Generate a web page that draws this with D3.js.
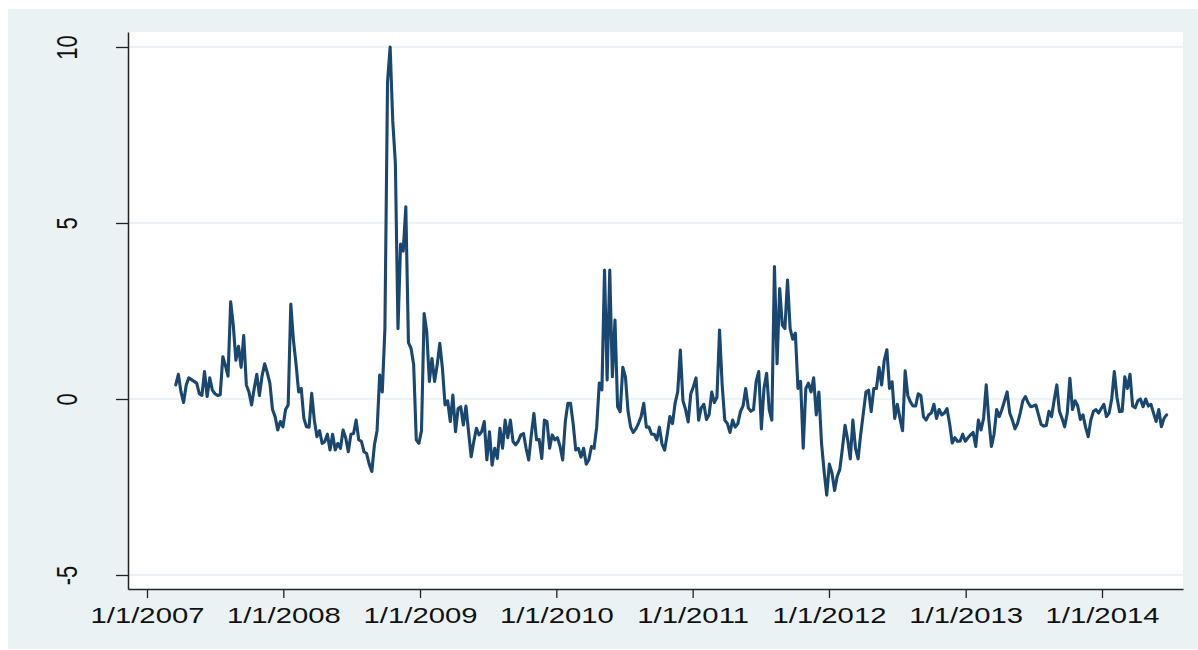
<!DOCTYPE html>
<html><head><meta charset="utf-8">
<script src="https://cdn.jsdelivr.net/npm/d3@7"></script>
<style>html,body{margin:0;padding:0;background:#fff;} svg{display:block;}</style>
</head><body>
<svg id="chart" width="1198" height="650"></svg>
<script>
// ---- data (weekly readings) ----
const startDate = "2007-03-19";
const stepDays = 7;
const values2007 = [0.4, 0.7, 0.2, -0.1, 0.4, 0.6, 0.55, 0.5, 0.45, 0.15,
  0.1, 0.78, 0.07, 0.6, 0.25, 0.15, 0.1, 0.12, 1.2, 0.95,
  0.65, 2.76, 2.1, 1.1, 1.5, 0.9, 1.8, 0.4, 0.2, -0.17,
  0.3, 0.7, 0.1, 0.65, 1.0, 0.75, 0.45, -0.3, -0.5, -0.88,
  -0.64, -0.79, -0.3, -0.17, 2.7, 1.68, 1.0, 0.2, 0.3, -0.55,
  -0.79, -0.8, 0.16, -0.6, -1.07, -0.9, -1.26, -1.21, -1.0, -1.45,
  -1.0, -1.45, -1.26, -1.4, -0.88, -1.1, -1.5, -1.0, -0.98, -0.6,
  -1.16, -1.2, -1.5, -1.55, -1.85];
const values2008 = [-2.06, -1.3, -0.9, 0.68, 0.2, 2.0, 9.0, 10.0, 7.9, 6.7,
  2.0, 4.4, 4.2, 5.46, 1.6, 1.44, 0.97, -1.16, -1.26, -0.9,
  2.43, 1.91, 0.5, 1.15, 0.5, 0.97, 1.58, 0.87, -0.17, -0.05,
  -0.64, 0.11, -0.93, -0.27, -0.22, -0.74, -0.2, -0.93, -1.64, -1.21,
  -0.83, -1.02, -0.93, -0.64, -1.73, -0.93, -1.88, -1.4, -1.69, -0.83,
  -1.4, -0.6, -1.1, -0.6, -1.21, -1.3, -1.2, -1.02, -0.98, -1.4,
  -1.73, -1.02, -0.41, -1.16, -1.15, -1.69, -0.6, -0.64, -1.4, -1.02,
  -1.16, -1.1, -1.35, -1.73, -0.64, -0.12];
const values2010 = [-0.12, -0.7, -1.45, -1.4, -1.65, -1.4, -1.85, -1.73, -1.35, -1.4,
  -0.8, 0.45, 0.26, 3.66, 0.54, 3.66, 0.63, 2.24, -0.22, -0.36,
  0.9, 0.63, -0.35, -0.8, -0.95, -0.85, -0.69, -0.5, -0.12, -0.8,
  -0.8, -1.0, -1.0, -1.16, -0.8, -1.28, -1.45, -1.0, -0.5, -0.7,
  -0.12, 0.2, 1.39, -0.05, -0.3, -0.65, 0.15, 0.35, 0.6, -0.6,
  -0.25, -0.15, -0.58, -0.45, 0.2, -0.1, 0.05, 1.96, 0.4, -0.6,
  -0.7, -0.95, -0.6, -0.8, -0.7, -0.35, -0.2, 0.3, -0.25, -0.35,
  -0.3, 0.5, 0.78, -0.85, 0.3, 0.73, -0.3];
const values2011 = [-0.6, 3.76, 1.0, 3.14, 2.1, 2.0, 3.38, 2.0, 1.7, 1.87,
  0.3, 0.5, -1.4, 0.3, 0.45, 0.2, 0.6, -0.45, 0.2, -1.25,
  -2.06, -2.73, -1.85, -2.1, -2.6, -2.2, -2.0, -1.4, -0.75, -1.15,
  -1.7, -0.6, -1.4, -1.7, -1.0, -0.4, 0.2, 0.25, -0.36, 0.3,
  0.3, 0.9, 0.4, 1.1, 1.4, 0.3, 0.49, -0.55, -0.15, -0.55,
  -0.9, 0.8, 0.1, -0.08, -0.2, -0.2, 0.15, 0.1, -0.5, -0.6,
  -0.45, -0.4, -0.15, -0.55, -0.3, -0.45, -0.4, -0.27, -0.7, -1.25,
  -1.1, -1.2, -1.2, -1.0, -1.2, -1.1, -1.02];
const values2013 = [-0.95, -1.35, -0.6, -0.88, -0.55, 0.4, -0.6, -1.35, -1.0, -0.3,
  -0.5, -0.3, -0.05, 0.2, -0.4, -0.6, -0.85, -0.69, -0.4, -0.05,
  0.07, -0.1, -0.22, -0.2, -0.17, -0.45, -0.72, -0.77, -0.75, -0.35,
  -0.5, -0.03, 0.4, -0.35, -0.55, -0.79, -0.4, 0.59, -0.3, -0.05,
  -0.2, -0.58, -0.45, -0.8, -1.07, -0.6, -0.35, -0.3, -0.4, -0.27,
  -0.15, -0.5, -0.4, 0.0, 0.78, 0.05, -0.36, -0.35, 0.63, 0.3,
  0.7, -0.2, -0.25, -0.05, 0.0, -0.22, 0.0, -0.2, -0.15, -0.4,
  -0.64, -0.3, -0.79, -0.55, -0.45];
const xTickDates = ["2007-01-01","2008-01-01","2009-01-01","2010-01-01","2011-01-01","2012-01-01","2013-01-01","2014-01-01"];
const xTickLabels = ["1/1/2007","1/1/2008","1/1/2009","1/1/2010","1/1/2011","1/1/2012","1/1/2013","1/1/2014"];
const yTickValues = [-5, 0, 5, 10];
const yTickLabels = ["-5", "0", "5", "10"];

// ---- build ----
const values = values2007.concat(values2008, values2010, values2011, values2013);
const parse = d3.utcParse("%Y-%m-%d");
const t0 = parse(startDate);
const data = values.map((v, i) => ({date: d3.utcDay.offset(t0, i * stepDays), value: v}));

const W = 1198, H = 650;
const plot = {left: 128, right: 1183, top: 32, bottom: 589};
const svg = d3.select("#chart");

const x = d3.scaleUtc().domain([parse("2007-01-01"), parse("2014-01-01")]).range([147, 1102]);
x.domain([x.invert(plot.left), x.invert(plot.right)]).range([plot.left, plot.right]);
const y = d3.scaleLinear().domain([-5, 10]).range([575, 47]);
y.domain([y.invert(plot.bottom), y.invert(plot.top)]).range([plot.bottom, plot.top]);

svg.append("rect").attr("x", 8).attr("y", 9).attr("width", W - 8).attr("height", H - 10).attr("fill", "#eaf2f3");
svg.append("rect").attr("x", plot.left).attr("y", plot.top)
  .attr("width", plot.right - plot.left).attr("height", plot.bottom - plot.top).attr("fill", "#ffffff");

// gridlines
svg.append("g").selectAll("line").data(yTickValues).join("line")
  .attr("x1", plot.left).attr("x2", plot.right)
  .attr("y1", d => y(d)).attr("y2", d => y(d))
  .attr("stroke", "#e6eff1").attr("stroke-width", 1.6);

// series
const line = d3.line().x(d => x(d.date)).y(d => y(d.value));
svg.append("path").datum(data).attr("d", line)
  .attr("fill", "none").attr("stroke", "#1a476f").attr("stroke-width", 3.1)
  .attr("stroke-linejoin", "round").attr("stroke-linecap", "round");

const font = "'Liberation Sans', Arial, Helvetica, sans-serif";
const sx = 1.33;

// y axis
const gy = svg.append("g").attr("transform", `translate(${plot.left},0)`)
  .call(d3.axisLeft(y).tickValues(yTickValues).tickSize(12).tickSizeOuter(0)
    .tickFormat((d, i) => yTickLabels[i]));
gy.select(".domain").attr("stroke", "#222").attr("stroke-width", 1.5);
gy.selectAll(".tick line").attr("stroke", "#222").attr("stroke-width", 1.3);
gy.selectAll(".tick text").attr("x", null).attr("dy", null)
  .attr("transform", `translate(-51,0) scale(${sx},1) rotate(-90)`)
  .attr("text-anchor", "middle").attr("fill", "#111")
  .style("font-family", font).style("font-size", "22px");

// x axis
const gx = svg.append("g").attr("transform", `translate(0,${plot.bottom})`)
  .call(d3.axisBottom(x).tickValues(xTickDates.map(parse)).tickSize(9).tickSizeOuter(0)
    .tickFormat((d, i) => xTickLabels[i]));
gx.select(".domain").attr("stroke", "#222").attr("stroke-width", 1.5);
gx.selectAll(".tick line").attr("stroke", "#222").attr("stroke-width", 1.3);
gx.selectAll(".tick text").attr("y", null).attr("dy", null)
  .attr("transform", `translate(0,34) scale(${sx},1)`)
  .attr("text-anchor", "middle").attr("fill", "#111")
  .style("font-family", font).style("font-size", "22px");
gx.attr("font-size", null); gy.attr("font-size", null);
gx.attr("font-family", null); gy.attr("font-family", null);
</script>
</body></html>
